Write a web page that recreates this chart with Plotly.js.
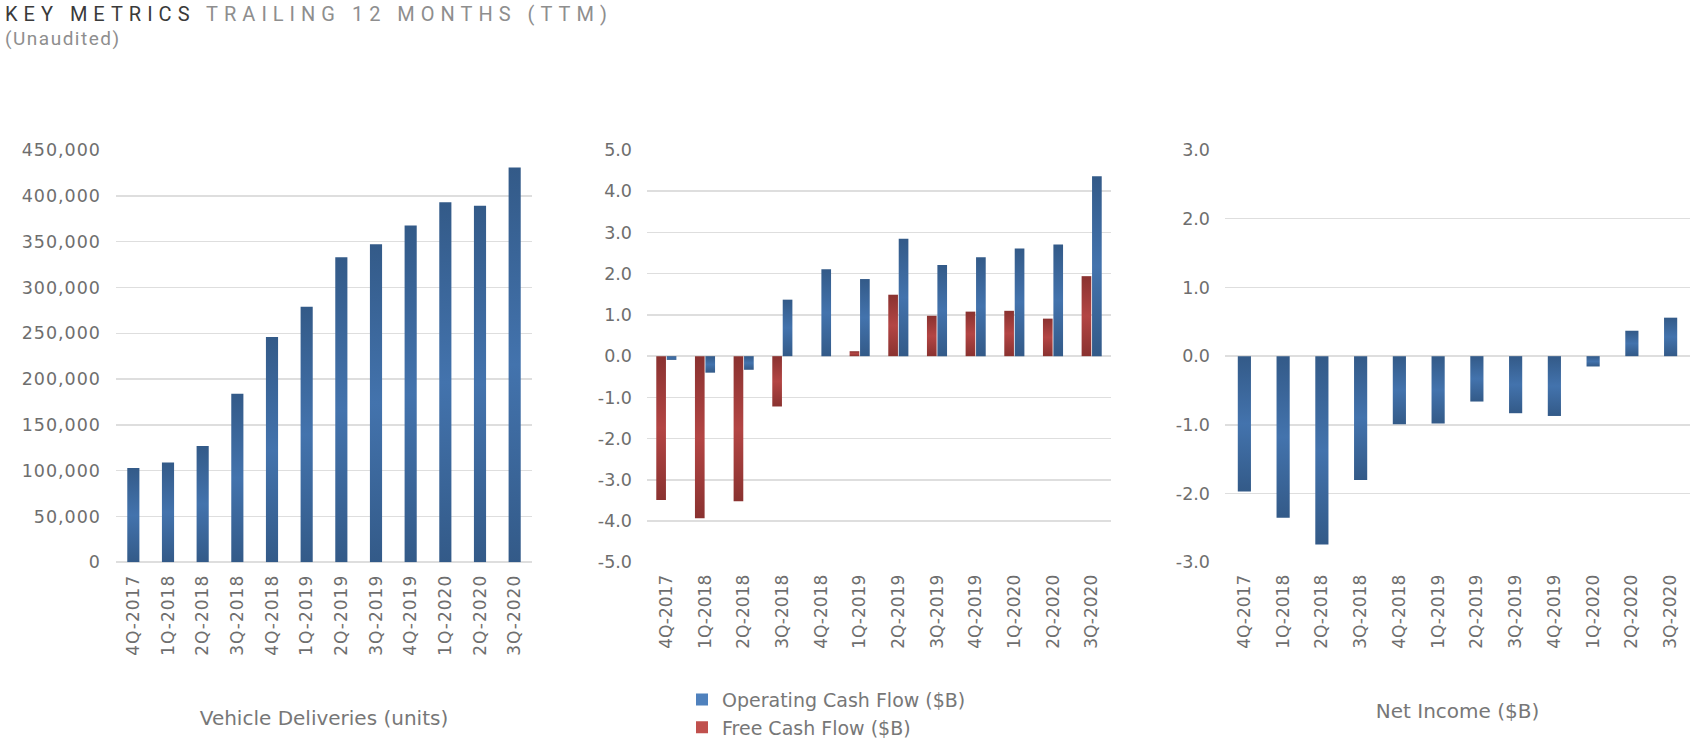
<!DOCTYPE html>
<html>
<head>
<meta charset="utf-8">
<script src="https://cdn.plot.ly/plotly-3.0.1.min.js"></script>
<style>
  html, body { margin: 0; padding: 0; background: #ffffff; }
  #chart { width: 1696px; height: 747px; }
  .gtitle { letter-spacing: 6px; }
  .annotation-text { letter-spacing: 1.5px; }
  .xtick text, .ytick text { letter-spacing: 1px; }
</style>
</head>
<body>
<div id="chart"></div>
<script>
// ---- data ----
const categories = ['4Q-2017','1Q-2018','2Q-2018','3Q-2018','4Q-2018','1Q-2019','2Q-2019','3Q-2019','4Q-2019','1Q-2020','2Q-2020','3Q-2020'];
const deliveries = [103000, 109000, 127000, 184000, 246000, 279000, 333000, 347000, 367500, 393000, 389000, 431000];
const operatingCashFlow = [-0.09, -0.40, -0.33, 1.37, 2.11, 1.87, 2.85, 2.21, 2.40, 2.61, 2.71, 4.36];
const freeCashFlow = [-3.49, -3.93, -3.52, -1.22, 0.00, 0.12, 1.49, 0.98, 1.08, 1.10, 0.91, 1.94];
const netIncome = [-1.97, -2.35, -2.74, -1.80, -0.99, -0.98, -0.66, -0.83, -0.87, -0.15, 0.37, 0.56];

const yTicks1 = [0, 50000, 100000, 150000, 200000, 250000, 300000, 350000, 400000, 450000];
const yTickText1 = ['0', '50,000', '100,000', '150,000', '200,000', '250,000', '300,000', '350,000', '400,000', '450,000'];
const yTicks2 = [-5, -4, -3, -2, -1, 0, 1, 2, 3, 4, 5];
const yTickText2 = ['-5.0', '-4.0', '-3.0', '-2.0', '-1.0', '0.0', '1.0', '2.0', '3.0', '4.0', '5.0'];
const yTicks3 = [-3, -2, -1, 0, 1, 2, 3];
const yTickText3 = ['-3.0', '-2.0', '-1.0', '0.0', '1.0', '2.0', '3.0'];

// ---- styles ----
const BLUE = '#4f81bd';
const RED = '#c0504d';
const xTickFont = { family: 'DejaVu Sans', size: 17, color: '#6e6e6e' };
const yTickFont = { family: 'DejaVu Sans', size: 17.5, color: '#6e6e6e' };
const titleFont = { family: 'DejaVu Sans', size: 20, color: '#777777' };
const W = 1696, H = 747;
const yDom = [1 - 570 / H, 1 - 152 / H];

const data = [
  { type: 'bar', x: categories, y: deliveries, xaxis: 'x', yaxis: 'y',
    marker: { color: BLUE }, width: 0.35, showlegend: false, name: 'Vehicle Deliveries (units)' },
  { type: 'bar', x: categories, y: operatingCashFlow, xaxis: 'x2', yaxis: 'y2',
    marker: { color: BLUE }, width: 0.25, offset: 0.01, name: 'Operating Cash Flow ($B)' },
  { type: 'bar', x: categories, y: freeCashFlow, xaxis: 'x2', yaxis: 'y2',
    marker: { color: RED }, width: 0.25, offset: -0.26, name: 'Free Cash Flow ($B)' },
  { type: 'bar', x: categories, y: netIncome, xaxis: 'x3', yaxis: 'y3',
    marker: { color: BLUE }, width: 0.34, showlegend: false, name: 'Net Income ($B)' }
];

function xAxis(domain, title) {
  const ax = {
    domain: domain, type: 'category', tickangle: -90, tickfont: xTickFont,
    showgrid: false, showline: false, zeroline: false, ticks: '', ticklabelstandoff: 8,
    fixedrange: true
  };
  if (title) ax.title = { text: title, font: titleFont, standoff: 56 };
  return ax;
}
function yAxis(anchor, range, vals, text) {
  return {
    anchor: anchor, domain: yDom, range: range, tickmode: 'array', tickvals: vals, ticktext: text,
    tickfont: yTickFont, showgrid: true, gridcolor: '#dedede', gridwidth: 1.5,
    zeroline: true, zerolinecolor: '#dedede', zerolinewidth: 2, showline: false, ticks: '',
    ticklabelstandoff: 14, fixedrange: true
  };
}

const layout = {
  width: W, height: H,
  margin: { l: 0, r: 0, t: 0, b: 0 },
  paper_bgcolor: '#ffffff', plot_bgcolor: '#ffffff',
  barmode: 'group',
  title: {
    text: "<span style='color:#3a3a3a'>KEY METRICS</span> TRAILING 12 MONTHS (TTM)",
    font: { family: 'Roboto', size: 20, color: '#8e8e8e' },
    xref: 'container', yref: 'container', x: 5 / W, xanchor: 'left', y: 1 - 14 / H, yanchor: 'middle'
  },
  annotations: [
    { text: '(Unaudited)', xref: 'paper', yref: 'paper', x: 3 / W, y: 1 - 39 / H,
      xanchor: 'left', yanchor: 'middle', showarrow: false,
      font: { family: 'Roboto', size: 19, color: '#8e8e8e' } }
  ],
  xaxis: xAxis([116 / W, 532 / W], 'Vehicle Deliveries (units)'),
  yaxis: yAxis('x', [0, 450000], yTicks1, yTickText1),
  xaxis2: xAxis([647 / W, 1111 / W], null),
  yaxis2: yAxis('x2', [-5, 5], yTicks2, yTickText2),
  xaxis3: xAxis([1225 / W, 1690 / W], 'Net Income ($B)'),
  yaxis3: yAxis('x3', [-3, 3], yTicks3, yTickText3),
  showlegend: true,
  legend: {
    x: 682 / W, y: 1 - 690 / H, xanchor: 'left', yanchor: 'top',
    orientation: 'v', traceorder: 'normal',
    font: { family: 'DejaVu Sans', size: 19, color: '#777777' },
    bgcolor: 'rgba(0,0,0,0)'
  }
};

Plotly.newPlot('chart', data, layout, { staticPlot: true, displayModeBar: false }).then(function (gd) {
  // vertical shading on the bars (dark at the ends, lighter in the middle)
  const ns = 'http://www.w3.org/2000/svg';
  const svg = gd.querySelector('svg.main-svg');
  let defs = svg.querySelector('defs');
  if (!defs) { defs = document.createElementNS(ns, 'defs'); svg.insertBefore(defs, svg.firstChild); }
  function addGrad(id, dark, light) {
    const g = document.createElementNS(ns, 'linearGradient');
    g.setAttribute('id', id);
    g.setAttribute('x1', '0'); g.setAttribute('y1', '0'); g.setAttribute('x2', '0'); g.setAttribute('y2', '1');
    [[0, dark], [0.5, light], [1, dark]].forEach(function (s) {
      const st = document.createElementNS(ns, 'stop');
      st.setAttribute('offset', s[0]); st.setAttribute('stop-color', s[1]);
      g.appendChild(st);
    });
    defs.appendChild(g);
  }
  addGrad('gradBlue', '#335a88', '#4373ad');
  addGrad('gradRed', '#8a3230', '#b34544');
  gd.querySelectorAll('.barlayer .point path').forEach(function (p) {
    const f = p.style.fill.replace(/\s/g, '');
    if (f === 'rgb(79,129,189)') p.style.fill = 'url(#gradBlue)';
    else if (f === 'rgb(192,80,77)') p.style.fill = 'url(#gradRed)';
  });
});
</script>
</body>
</html>
